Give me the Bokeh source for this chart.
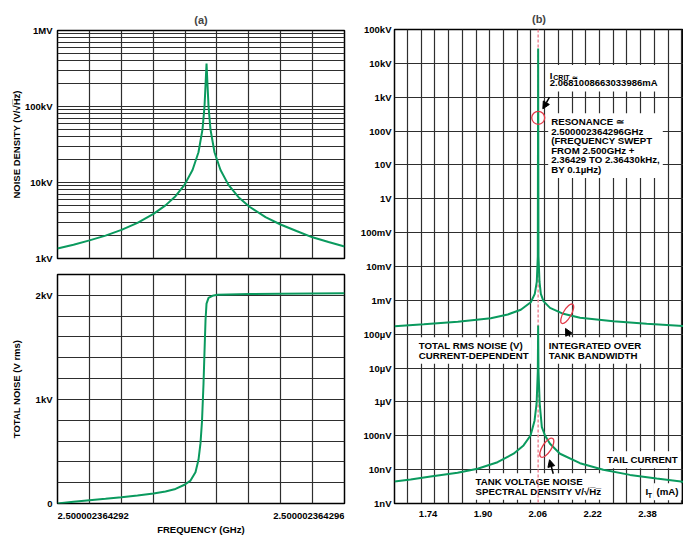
from bokeh.plotting import figure
from bokeh.layouts import row, column
from bokeh.models import FixedTicker, Label, Arrow, NormalHead, Span, NumeralTickFormatter
from bokeh.embed import file_html
from bokeh.resources import INLINE

FONT = "Liberation Sans"
GREEN = "#0a9a5e"
PINK = "#f08a98"
RED = "#e23a48"
GRID = "#2e2e2e"

# ---------------- data ----------------
# (a) top: frequency offset above 2.500002364292 GHz (mHz) and noise density (V/rtHz)
freq_density = [0.0, 0.223, 0.446, 0.669, 0.892, 1.115, 1.338, 1.505, 1.645, 1.770,
                1.882, 1.965, 2.021, 2.049, 2.063, 2.077, 2.091, 2.105, 2.132, 2.188,
                2.272, 2.383, 2.523, 2.676, 2.899, 3.108, 3.331, 3.554, 3.777, 4.0]
noise_density = [1350, 1520, 1730, 2000, 2380, 2950, 3870, 5000, 6600, 9300,
                 14600, 25000, 50000, 100000, 190000, 368000, 190000, 100000, 50000, 25000,
                 14600, 9300, 6400, 4800, 3500, 2800, 2300, 1900, 1650, 1440]

# (a) bottom: total integrated noise (V rms)
freq_total = [0.0, 0.223, 0.446, 0.669, 0.892, 1.115, 1.338, 1.505, 1.645, 1.770,
              1.854, 1.923, 1.965, 1.993, 2.014, 2.035, 2.049, 2.063, 2.077, 2.105,
              2.160, 2.230, 2.676, 3.108, 3.554, 4.0]
total_noise = [0, 17, 32, 45, 60, 77, 96, 115, 140, 180,
               220, 300, 420, 580, 790, 1150, 1460, 1760, 1920, 1975,
               1995, 2005, 2012, 2015, 2018, 2020]

# (b) total rms noise vs tail current (mA, V)
tail_current_rms = [1.6423, 1.7276, 1.8267, 1.9229, 1.9725, 2.0104, 2.0395, 2.0512, 2.0570, 2.0600,
                    2.0610, 2.0620, 2.0650, 2.0689, 2.0765, 2.0957, 2.1345, 2.1832, 2.2803, 2.3776, 2.4850]
total_rms_noise = [1.73e-4, 1.98e-4, 2.33e-4, 2.98e-4, 3.83e-4, 5.27e-4, 8.8e-4, 1.56e-3, 3.5e-3, 2.0e-2,
                   2.75e4, 2.0e-2, 3.5e-3, 1.56e-3, 9.5e-4, 6.0e-4, 4.0e-4, 3.05e-4, 2.43e-4, 2.03e-4, 1.73e-4]

# (b) tank voltage noise spectral density vs tail current (mA, V/rtHz)
tail_current_sd = [1.6423, 1.6890, 1.7473, 1.8260, 1.8843, 1.9426, 1.9893, 2.0184, 2.0388, 2.0505,
                   2.0565, 2.0600, 2.0610, 2.0620, 2.0655, 2.0718, 2.0810, 2.0956, 2.1248, 2.1831,
                   2.2510, 2.3289, 2.4067, 2.4850]
spectral_density = [4.48e-9, 5.1e-9, 6.3e-9, 8.1e-9, 1.06e-8, 1.66e-8, 2.95e-8, 5.2e-8, 1.02e-7, 2.8e-7,
                    9e-7, 8e-6, 1.8e-4, 8e-6, 9e-7, 1.8e-7, 1.02e-7, 5.8e-8, 2.95e-8, 1.55e-8,
                    9.9e-9, 7.0e-9, 5.5e-9, 4.4e-9]

ICRIT_MA = 2.061

# tick labels
density_ticks = [1e3, 1e4, 1e5, 1e6]
density_labels = ["1kV", "10kV", "100kV", "1MV"]
total_ticks = [0, 1000, 2000]
total_labels = ["0", "1kV", "2kV"]
freq_labels = ["2.500002364292", "2.500002364296"]
current_ticks = [1.74, 1.90, 2.06, 2.22, 2.38]
volt_ticks = [1e-9, 1e-8, 1e-7, 1e-6, 1e-5, 1e-4, 1e-3, 1e-2, 1e-1, 1e0, 1e1, 1e2, 1e3, 1e4, 1e5]
volt_labels = ["1nV", "10nV", "100nV", "1\u00b5V", "10\u00b5V", "100\u00b5V", "1mV", "10mV",
               "100mV", "1V", "10V", "100V", "1kV", "10kV", "100kV"]

# annotation marker positions (mA, V)
resonance_marker = ([2.0613], [247])
ellipse_rms = ([2.1458], [4.02e-4])
ellipse_sd = ([2.0863], [4.43e-8])

TICK_SIZE = "9.5px"
NOTE_SIZE = "9.7px"
NOTE_LH = 0.87


def style(p):
    p.background_fill_color = "white"
    p.border_fill_color = "white"
    p.outline_line_color = "black"
    p.outline_line_width = 1.5
    for ax in p.axis:
        ax.axis_line_color = None
        ax.major_tick_line_color = None
        ax.minor_tick_line_color = None
        ax.major_tick_in = 0
        ax.major_tick_out = 0
        ax.minor_tick_in = 0
        ax.minor_tick_out = 0
        ax.major_label_text_font = FONT
        ax.major_label_text_font_style = "bold"
        ax.major_label_text_font_size = TICK_SIZE
        ax.major_label_text_color = "black"
        ax.axis_label_text_font = FONT
        ax.axis_label_text_font_style = "bold"
        ax.axis_label_text_font_size = "9.5px"
        ax.axis_label_text_color = "black"
    for g in p.grid:
        g.grid_line_color = GRID
        g.grid_line_width = 1.2
    p.title.align = "center"
    p.title.text_font = FONT
    p.title.text_font_style = "bold"
    p.title.text_font_size = "11px"


def lab(p, text, x, y, size=NOTE_SIZE, align="left", baseline="middle", xu="screen", bg=None,
        lh=1.0, level="underlay"):
    kw = dict(x=x, y=y, x_units=xu, y_units="screen", text=text, text_font=FONT,
              text_font_style="bold", text_font_size=size, text_align=align,
              text_baseline=baseline, text_color="black", text_line_height=lh, level=level)
    if bg:
        kw.update(background_fill_color=bg, padding=3)
    l = Label(**kw)
    p.add_layout(l)
    return l


fgrid = FixedTicker(ticks=[4 * k / 9 for k in range(10)])

# ---------------- (a) top ----------------
p1 = figure(width=350, height=265, x_range=(0, 4), y_range=(1e3, 1e6), y_axis_type="log",
            output_backend="svg", toolbar_location=None, title="(a)",
            min_border_left=57, min_border_right=6, min_border_top=30, min_border_bottom=7)
minor = [k * 10 ** d for d in (3, 4, 5) for k in range(2, 10)]
p1.yaxis.ticker = FixedTicker(ticks=density_ticks, minor_ticks=minor)
p1.yaxis.major_label_overrides = {float(t): l for t, l in zip(density_ticks, density_labels)}
p1.yaxis.axis_label = "NOISE DENSITY (V/\u221aH\u0305z\u0305)"
p1.yaxis.axis_label_standoff = 0
p1.xaxis.visible = False
p1.xgrid.ticker = fgrid
p1.ygrid.ticker = FixedTicker(ticks=density_ticks, minor_ticks=minor)
style(p1)
p1.ygrid.minor_grid_line_color = GRID
p1.ygrid.minor_grid_line_width = 1.2
p1.line(freq_density, noise_density, line_color=GREEN, line_width=2)

# ---------------- (a) bottom ----------------
p2 = figure(width=350, height=244, x_range=p1.x_range, y_range=(0, 2200),
            output_backend="svg", toolbar_location=None,
            min_border_left=57, min_border_right=6, min_border_top=9, min_border_bottom=6)
p2.yaxis.ticker = FixedTicker(ticks=total_ticks)
p2.yaxis.major_label_overrides = {float(t): l for t, l in zip(total_ticks, total_labels)}
p2.yaxis.axis_label = "TOTAL NOISE (V rms)"
p2.yaxis.axis_label_standoff = 11
p2.xaxis.visible = False
p2.xgrid.ticker = fgrid
p2.ygrid.ticker = FixedTicker(ticks=[200 * k for k in range(12)])
style(p2)
p2.line(freq_total, total_noise, line_color=GREEN, line_width=2)

# x-axis texts of (a), in a strip under the lower panel
p4 = figure(width=350, height=27, x_range=p1.x_range, y_range=(0, 1),
            output_backend="svg", toolbar_location=None,
            x_axis_location=None, y_axis_location=None,
            min_border_left=57, min_border_right=6, min_border_top=0, min_border_bottom=0)
p4.grid.visible = False
p4.outline_line_color = None
p4.background_fill_color = "white"
p4.border_fill_color = "white"
lab(p4, freq_labels[0], 0, 21, xu="data", align="left", size=TICK_SIZE, level="annotation")
lab(p4, freq_labels[1], 4, 21, xu="data", align="right", size=TICK_SIZE, level="annotation")
lab(p4, "FREQUENCY (GHz)", 2, 7, xu="data", align="center", size="9.5px", level="annotation")

# ---------------- (b) ----------------
p3 = figure(width=333, height=536, x_range=(1.642, 2.485), y_range=(1e-9, 1e5), y_axis_type="log",
            output_backend="svg", toolbar_location=None, title="(b)",
            min_border_left=44, min_border_right=0, min_border_top=29, min_border_bottom=33)
p3.yaxis.ticker = FixedTicker(ticks=volt_ticks)
p3.yaxis.major_label_overrides = {float(t): l for t, l in zip(volt_ticks, volt_labels)}
p3.yaxis.major_label_standoff = 3
p3.xaxis.ticker = FixedTicker(ticks=current_ticks)
p3.xaxis.formatter = NumeralTickFormatter(format="0.00")
p3.xaxis.major_label_standoff = 7
p3.xgrid.ticker = FixedTicker(ticks=[round(1.64 + 0.04 * k, 2) for k in range(22)])
p3.ygrid.ticker = FixedTicker(ticks=volt_ticks)
style(p3)

# text blocks with white backgrounds
lab(p3, " \n2.0681008663033986mA", 152.3, 438.5, baseline="top", bg="white", size="9.5px", lh=0.86)
lab(p3, "I", 155.3, 428.5, size="9.5px")
lab(p3, "CRIT \u2243", 158.8, 426.3, size="7px")
lab(p3, "RESONANCE \u2243\n2.500002364296GHz\n(FREQUENCY SWEPT\nFROM 2.500GHz +\n2.36429 TO 2.36430kHz,\nBY 0.1\u00b5Hz)",
    153.7, 390.3, baseline="top", bg="white", lh=NOTE_LH)
lab(p3, "TOTAL RMS NOISE (V)\nCURRENT-DEPENDENT", 21.3, 166.3, baseline="top", bg="white", lh=NOTE_LH)
lab(p3, "INTEGRATED OVER\nTANK BANDWIDTH", 151.3, 166.3, baseline="top", bg="white", lh=NOTE_LH)
lab(p3, "TAIL CURRENT", 209.6, 52.3, baseline="top", bg="white")
lab(p3, "TANK VOLTAGE NOISE\nSPECTRAL DENSITY V/\u221aH\u0305z\u0305", 78, 30.3, baseline="top", bg="white", lh=NOTE_LH)
lab(p3, "(mA)", 259, 11.7, bg="white")
lab(p3, "I", 248, 11.7, bg="white")
lab(p3, "T", 253.3, 8.5, size="7px")

p3.add_layout(Span(location=ICRIT_MA, dimension="height", line_color=PINK, line_dash="3 2",
                   line_width=1.5, level="underlay"))

p3.line(tail_current_rms, total_rms_noise, line_color=GREEN, line_width=2)
p3.line(tail_current_sd, spectral_density, line_color=GREEN, line_width=2)

p3.scatter(resonance_marker[0], resonance_marker[1], size=13, marker="circle",
           fill_color=None, line_color=RED, line_width=1.3)
p3.ellipse(ellipse_rms[0], ellipse_rms[1], width=8, height=22, angle=-0.52,
           width_units="screen", height_units="screen", fill_color=None, line_color=RED, line_width=1.3)
p3.ellipse(ellipse_sd[0], ellipse_sd[1], width=9, height=22, angle=-0.57,
           width_units="screen", height_units="screen", fill_color=None, line_color=RED, line_width=1.3)

for xs, ys, xe, ye in [(2.0942, 1000, 2.0747, 455),
                       (2.1534, 8.57e-5, 2.1409, 1.48e-4),
                       (2.1050, 7.55e-9, 2.0942, 1.96e-8)]:
    p3.add_layout(Arrow(end=NormalHead(size=7, fill_color="black", line_color="black"),
                        x_start=xs, y_start=ys, x_end=xe, y_end=ye,
                        line_color="black", line_width=1.5))

layout = row(column(p1, p2, p4), p3)
open("out.html", "w").write(file_html(layout, INLINE))
